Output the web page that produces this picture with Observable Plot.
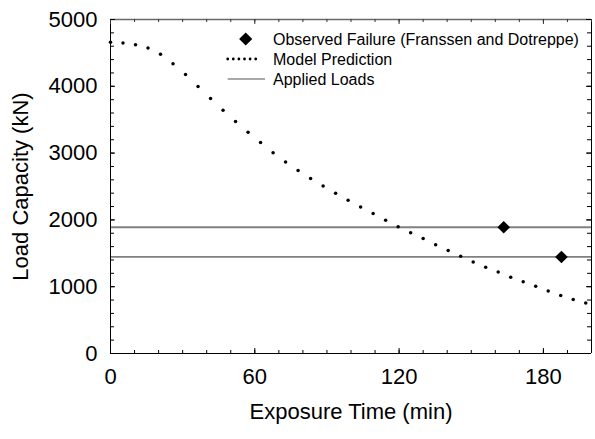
<!DOCTYPE html>
<html>
<head>
<meta charset="utf-8">
<script src="https://cdn.jsdelivr.net/npm/d3@7"></script>
<script src="https://cdn.jsdelivr.net/npm/@observablehq/plot@0.6"></script>
<style>
  body { margin: 0; background: #fff; }
  svg { display: block; }
</style>
</head>
<body>
<div id="chart"></div>
<script>
// ---- data ----
const modelTime = [0, 5.2, 10.4, 15.6, 20.8, 26, 31.2, 36.4, 41.6, 46.8, 52, 57.2, 62.4, 67.6, 72.8, 78, 83.2, 88.4, 93.6, 98.8, 104, 109.2, 114.4, 119.6, 124.8, 130, 135.2, 140.4, 145.6, 150.8, 156, 161.2, 166.4, 171.6, 176.8, 182, 187.2, 192.4, 197.6];
const modelCapacity = [4660, 4647, 4622, 4572, 4478, 4337, 4178, 3996, 3816, 3641, 3473, 3313, 3157, 3007, 2867, 2741, 2620, 2506, 2399, 2294, 2192, 2095, 1996, 1898, 1807, 1720, 1629, 1543, 1456, 1371, 1292, 1219, 1140, 1073, 1006, 935, 869, 807, 755];
const observedTime = [163.5, 187.5];
const observedCapacity = [1890, 1445];
const appliedLoads = [1890, 1445];
const xTickLabels = [0, 60, 120, 180];
const xMinorTicks = [0, 10, 20, 30, 40, 50, 60, 70, 80, 90, 100, 110, 120, 130, 140, 150, 160, 170, 180, 190, 200];
const yTickLabels = [0, 1000, 2000, 3000, 4000, 5000];
const yMinorTicks = [0, 200, 400, 600, 800, 1000, 1200, 1400, 1600, 1800, 2000, 2200, 2400, 2600, 2800, 3000, 3200, 3400, 3600, 3800, 4000, 4200, 4400, 4600, 4800, 5000];
const xTitle = "Exposure Time (min)";
const yTitle = "Load Capacity (kN)";
const legendLabels = ["Observed Failure (Franssen and Dotreppe)", "Model Prediction", "Applied Loads"];

const model = modelTime.map((t, i) => ({t, v: modelCapacity[i]}));
const observed = observedTime.map((t, i) => ({t, v: observedCapacity[i]}));

const W = 595, H = 439;
const mL = 110, mR = 4, mT = 19, mB = 86;
const PH = H - mT - mB;
const PW = W - mL - mR;
const FONT = "'Liberation Sans', Arial, Helvetica, sans-serif";

function legend(index, scales, values, dimensions) {
  const g = d3.create("svg:g").attr("font-family", FONT);
  const x0 = dimensions.marginLeft, y0 = dimensions.marginTop;
  const rows = [20, 40, 60];
  // diamond sample
  g.append("path")
    .attr("d", d3.symbol(d3.symbolDiamond2, 110)())
    .attr("transform", `translate(${x0 + 135.7},${y0 + rows[0]})`)
    .attr("fill", "#000");
  // dotted sample
  g.append("line")
    .attr("x1", x0 + 117.7).attr("x2", x0 + 147)
    .attr("y1", y0 + rows[1]).attr("y2", y0 + rows[1])
    .attr("stroke", "#000").attr("stroke-width", 2.8)
    .attr("stroke-linecap", "round").attr("stroke-dasharray", "0 5.6");
  // solid sample
  g.append("line")
    .attr("x1", x0 + 117.7).attr("x2", x0 + 155)
    .attr("y1", y0 + rows[2]).attr("y2", y0 + rows[2])
    .attr("stroke", "#555").attr("stroke-width", 1);
  legendLabels.forEach((lab, i) => {
    g.append("text")
      .attr("x", x0 + 163).attr("y", y0 + rows[i])
      .attr("dy", "0.35em")
      .attr("font-size", 16)
      .attr("text-anchor", "start")
      .attr("fill", "#000")
      .text(lab);
  });
  return g.node();
}

const chart = Plot.plot({
  width: W,
  height: H,
  marginLeft: mL,
  marginRight: mR,
  marginTop: mT,
  marginBottom: mB,
  style: {fontFamily: FONT, background: "#fff", color: "#000", overflow: "visible"},
  x: {domain: [0, 200]},
  y: {domain: [0, 5000]},
  marks: [
    // applied loads
    Plot.ruleY(appliedLoads, {y: d => d, stroke: "#808080", strokeWidth: 1.8}),
    // model prediction (markers)
    Plot.dot(model, {x: "t", y: "v", r: 1.75, fill: "#000", stroke: "none"}),
    // observed failures
    Plot.dot(observed, {x: "t", y: "v", symbol: "diamond2", r: 5.7, fill: "#000", stroke: "none"}),
    // frame
    Plot.ruleY([5000], {stroke: "#6a6a6a", strokeWidth: 1.3}),
    Plot.ruleX([200], {stroke: "#000", strokeWidth: 1}),
    Plot.ruleX([0], {stroke: "#000", strokeWidth: 1}),
    Plot.ruleY([0], {stroke: "#000", strokeWidth: 1}),
    // inward ticks: bottom / top
    Plot.tickX(xMinorTicks, {x: d => d, insetTop: PH - 3, stroke: "#000"}),
    Plot.tickX(xTickLabels, {x: d => d, insetTop: PH - 5, stroke: "#000"}),
    Plot.tickX(xMinorTicks, {x: d => d, insetBottom: PH - 3, stroke: "#333"}),
    Plot.tickX(xTickLabels, {x: d => d, insetBottom: PH - 5, stroke: "#333"}),
    // inward ticks: left / right
    Plot.tickY(yMinorTicks, {y: d => d, insetRight: PW - 4, stroke: "#000"}),
    Plot.tickY(yTickLabels, {y: d => d, insetRight: PW - 5, stroke: "#000"}),
    Plot.tickY(yMinorTicks, {y: d => d, insetLeft: PW - 4, stroke: "#000"}),
    Plot.tickY(yTickLabels, {y: d => d, insetLeft: PW - 5, stroke: "#000"}),
    // tick labels
    Plot.axisX({ticks: xTickLabels, tickSize: 0, tickPadding: 15, fontSize: 22, label: null, tickFormat: d => String(d)}),
    Plot.axisY({ticks: yTickLabels, tickSize: 0, tickPadding: 13, fontSize: 22, label: null, tickFormat: d => String(d)}),
    // titles
    Plot.text([xTitle], {frameAnchor: "bottom", dy: 58, lineAnchor: "middle", textAnchor: "middle", fontSize: 22, fill: "#000"}),
    Plot.text([yTitle], {frameAnchor: "left", dx: -90, rotate: -90, textAnchor: "middle", lineAnchor: "middle", fontSize: 22, fill: "#000"}),
    legend
  ]
});

document.getElementById("chart").appendChild(chart);
</script>
</body>
</html>
